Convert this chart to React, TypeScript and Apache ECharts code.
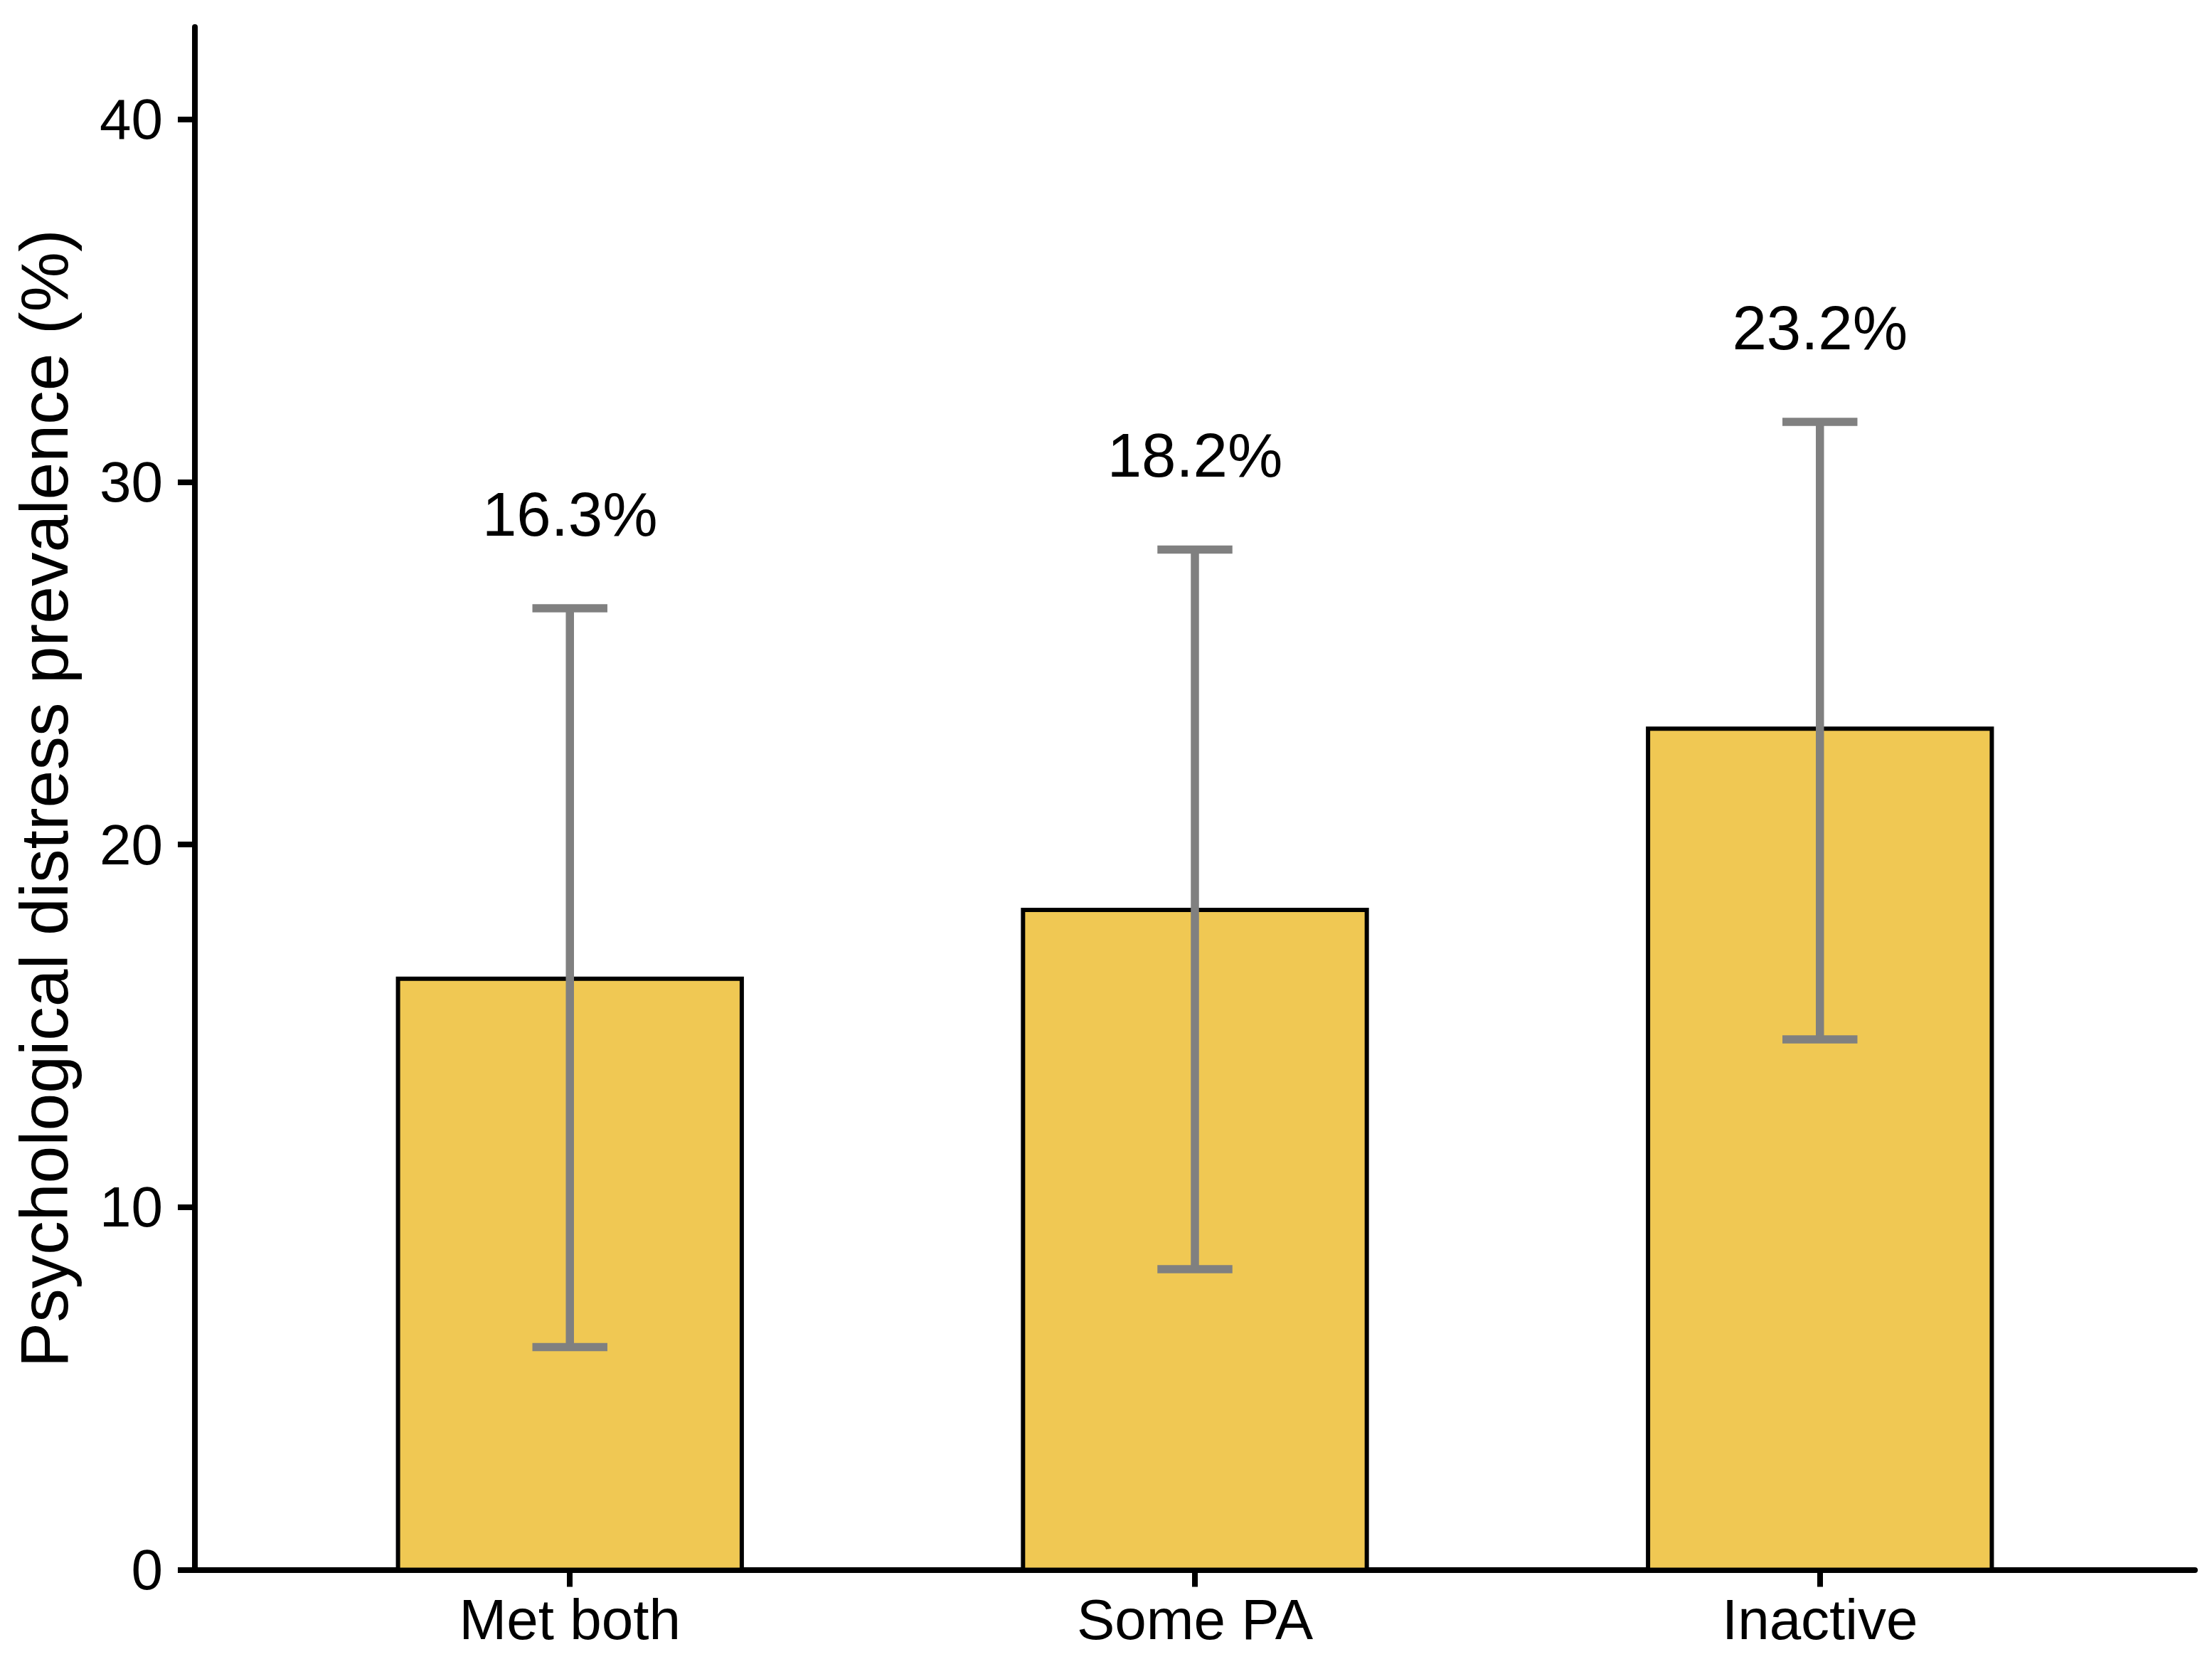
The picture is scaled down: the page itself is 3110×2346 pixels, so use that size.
import * as echarts from 'echarts';
import { useEffect, useRef } from 'react';

const categories = ['Met both', 'Some PA', 'Inactive'];
const prevalence = [16.3, 18.2, 23.2];
const ciLower = [6.14, 8.29, 14.63];
const ciUpper = [26.52, 28.14, 31.66];
const yTicks = [0, 10, 20, 30, 40];

const FONT = '"Liberation Sans", Arial, sans-serif';
const BAR_WIDTH = 0.55;
const CAP_WIDTH = 0.12;
const LABEL_OFFSET = 2.6;

const App = () => {
    const chartDiv = useRef<HTMLDivElement>(null);

    useEffect(() => {
        const chart = echarts.init(chartDiv.current, null, { renderer: 'svg' });

        const positions = categories.map((_, i) => i + 1);

        chart.setOption({
            animation: false,
            backgroundColor: '#ffffff',
            grid: { left: 274, right: 24, top: 38, bottom: 139.5, containLabel: false },
            xAxis: {
                type: 'value',
                min: 0.4,
                max: 3.6,
                splitLine: { show: false },
                axisLine: { show: true, onZero: false, lineStyle: { color: '#000', width: 8 } },
                axisTick: { show: true, length: 24, customValues: positions, lineStyle: { color: '#000', width: 8 } },
                axisLabel: {
                    customValues: positions,
                    formatter: (v: number) => categories[Math.round(v) - 1] ?? '',
                    color: '#000',
                    fontSize: 80,
                    fontFamily: FONT,
                    margin: 30
                }
            },
            yAxis: {
                type: 'value',
                min: 0,
                max: 42.55,
                name: 'Psychological distress prevalence (%)',
                nameLocation: 'middle',
                nameGap: 165,
                nameTextStyle: { color: '#000', fontSize: 95, fontFamily: FONT },
                splitLine: { show: false },
                axisLine: { show: true, lineStyle: { color: '#000', width: 8 } },
                axisTick: { show: true, length: 24, customValues: yTicks, lineStyle: { color: '#000', width: 8 } },
                axisLabel: {
                    customValues: yTicks,
                    color: '#000',
                    fontSize: 80,
                    fontFamily: FONT,
                    margin: 45
                }
            },
            series: [
                {
                    type: 'custom',
                    name: 'Prevalence',
                    data: prevalence.map((v, i) => [positions[i], v]),
                    renderItem: (params: any, api: any) => {
                        const x = api.value(0);
                        const v = api.value(1);
                        const p0 = api.coord([x - BAR_WIDTH / 2, v]);
                        const p1 = api.coord([x + BAR_WIDTH / 2, 0]);
                        return {
                            type: 'rect',
                            shape: { x: p0[0], y: p0[1], width: p1[0] - p0[0], height: p1[1] - p0[1] },
                            style: { fill: '#F0C853', stroke: '#000', lineWidth: 6 }
                        };
                    }
                },
                {
                    type: 'custom',
                    name: 'CI',
                    data: positions.map((x, i) => [x, ciLower[i], ciUpper[i]]),
                    renderItem: (params: any, api: any) => {
                        const x = api.value(0);
                        const lo = api.value(1);
                        const hi = api.value(2);
                        const top = api.coord([x, hi]);
                        const bottom = api.coord([x, lo]);
                        const half = (api.coord([x + CAP_WIDTH / 2, hi])[0] - top[0]);
                        const style = { stroke: '#808080', lineWidth: 11.5, lineCap: 'butt' };
                        return {
                            type: 'group',
                            children: [
                                { type: 'line', shape: { x1: top[0], y1: top[1], x2: bottom[0], y2: bottom[1] }, style },
                                { type: 'line', shape: { x1: top[0] - half, y1: top[1], x2: top[0] + half, y2: top[1] }, style },
                                { type: 'line', shape: { x1: bottom[0] - half, y1: bottom[1], x2: bottom[0] + half, y2: bottom[1] }, style }
                            ]
                        };
                    }
                },
                {
                    type: 'custom',
                    name: 'Labels',
                    data: positions.map((x, i) => [x, ciUpper[i] + LABEL_OFFSET, prevalence[i]]),
                    renderItem: (params: any, api: any) => {
                        const p = api.coord([api.value(0), api.value(1)]);
                        return {
                            type: 'text',
                            x: p[0],
                            y: p[1],
                            style: {
                                text: api.value(2).toFixed(1) + '%',
                                fill: '#000',
                                fontSize: 87,
                                fontFamily: FONT,
                                align: 'center',
                                verticalAlign: 'middle'
                            }
                        };
                    }
                }
            ]
        });

        return () => {
            chart.dispose();
        };
    }, []);

    return (
        <div
            ref={chartDiv}
            style={{ position: 'fixed', left: 0, top: 0, width: '3110px', height: '2346px', background: '#fff' }}
        />
    );
};

export default App;
